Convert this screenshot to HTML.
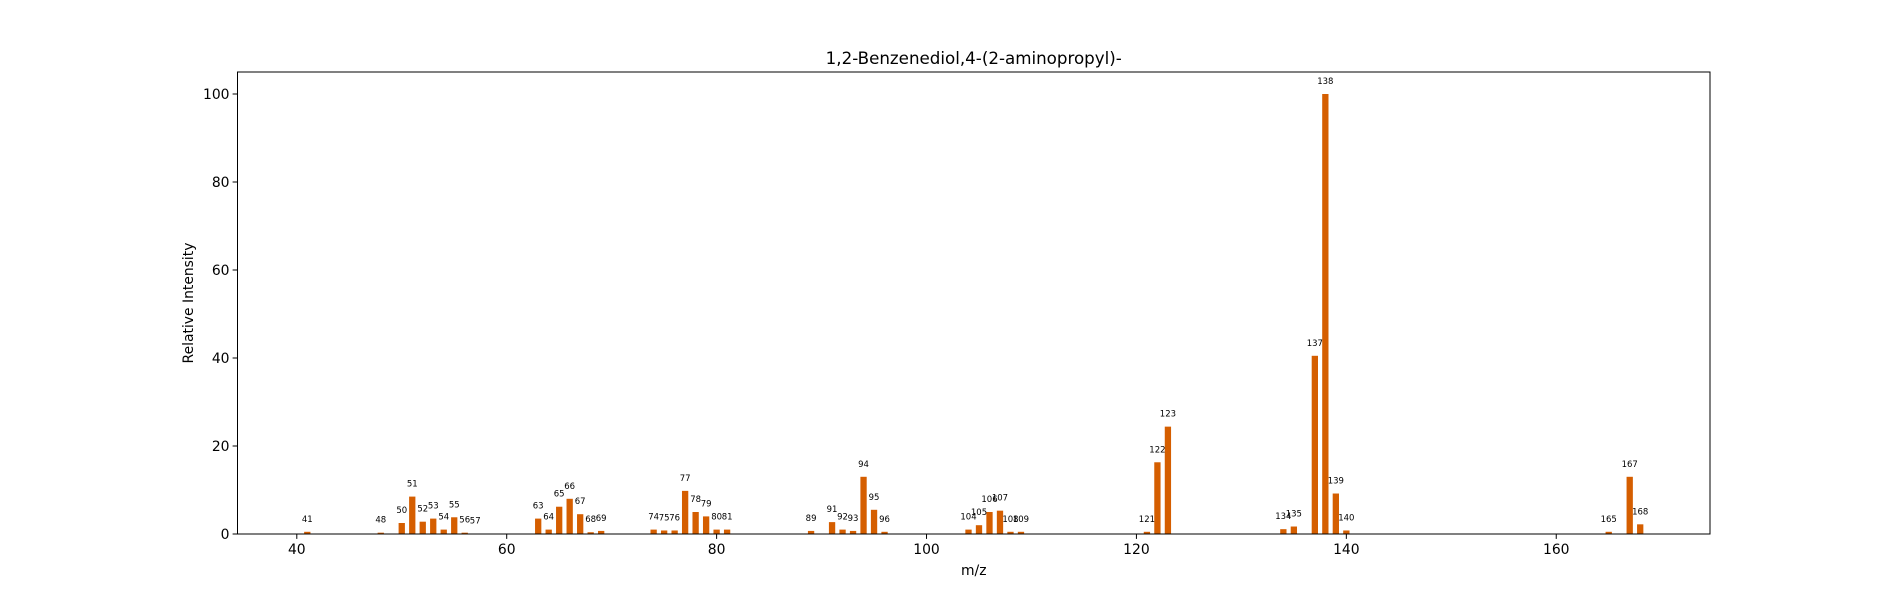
<!DOCTYPE html>
<html><head><meta charset="utf-8"><style>
body{margin:0;background:#fff;}
svg text{font-family:"DejaVu Sans","Liberation Sans",sans-serif;fill:#000;}
</style></head><body>
<svg id="chart" width="1900" height="600" xmlns="http://www.w3.org/2000/svg">
<rect width="1900" height="600" fill="#fff"/>
<text x="973.75" y="64" font-size="16.7" text-anchor="middle">1,2-Benzenediol,4-(2-aminopropyl)-</text>
<g id="bars"></g>
<g id="labels"></g>
<g id="axes"></g>
<rect x="237.5" y="72" width="1472.5" height="462" fill="none" stroke="#000" stroke-width="1"/>
<text x="973.75" y="575" font-size="13.9" text-anchor="middle">m/z</text>
<text transform="translate(193,303) rotate(-90)" font-size="13.9" text-anchor="middle">Relative Intensity</text>
</svg>
<script>
const mzValues = [41,48,50,51,52,53,54,55,56,57,63,64,65,66,67,68,69,74,75,76,77,78,79,80,81,89,91,92,93,94,95,96,104,105,106,107,108,109,121,122,123,134,135,137,138,139,140,165,167,168];
const intensities = [0.5,0.3,2.5,8.5,2.8,3.5,1,3.8,0.3,0.1,3.5,1,6.2,8,4.5,0.4,0.7,1,0.8,0.8,9.8,5,4,1,1,0.7,2.7,1,0.7,13,5.5,0.5,1,2,5,5.3,0.5,0.5,0.5,16.3,24.4,1.1,1.7,40.5,100,9.2,0.8,0.5,13,2.2];
const xTicks = [40,60,80,100,120,140,160];
const yTicks = [0,20,40,60,80,100];
const NS="http://www.w3.org/2000/svg";
const L=237.5,R=1710,T=72,B=534;
const xmin=34.35,xmax=174.65,ymin=0,ymax=105;
const xs=v=>L+(v-xmin)/(xmax-xmin)*(R-L);
const ys=v=>B-(v-ymin)/(ymax-ymin)*(B-T);
const barsG=document.getElementById('bars'),labG=document.getElementById('labels'),axG=document.getElementById('axes');
function mk(tag,attrs,parent){const e=document.createElementNS(NS,tag);for(const k in attrs)e.setAttribute(k,attrs[k]);parent.appendChild(e);return e;}
mzValues.forEach((m,i)=>{
  const v=intensities[i];
  const x0=xs(m-0.3),x1=xs(m+0.3);
  const r=mk('rect',{x:x0,y:ys(v),width:x1-x0,height:B-ys(v),fill:'#d55e00'},barsG);
  
  
  const t=mk('text',{x:xs(m),y:ys(v)-10,'font-size':'8.5','text-anchor':'middle',fill:'#222'},labG);
  t.textContent=m;
  
  
});
xTicks.forEach(v=>{
  const x=xs(v);
  const l=mk('line',{x1:x,x2:x,y1:B,y2:B+4.9,stroke:'#000','stroke-width':1},axG);
  
  
  const t=mk('text',{x:x,y:B+20,'font-size':'13.9','text-anchor':'middle'},axG);
  t.textContent=v;
  
  
});
yTicks.forEach(v=>{
  const y=ys(v);
  const l=mk('line',{x1:L-4.9,x2:L,y1:y,y2:y,stroke:'#000','stroke-width':1},axG);
  
  
  const t=mk('text',{x:L-8,y:y+5,'font-size':'13.9','text-anchor':'end'},axG);
  t.textContent=v;
  
  
});
</script>
</body></html>
